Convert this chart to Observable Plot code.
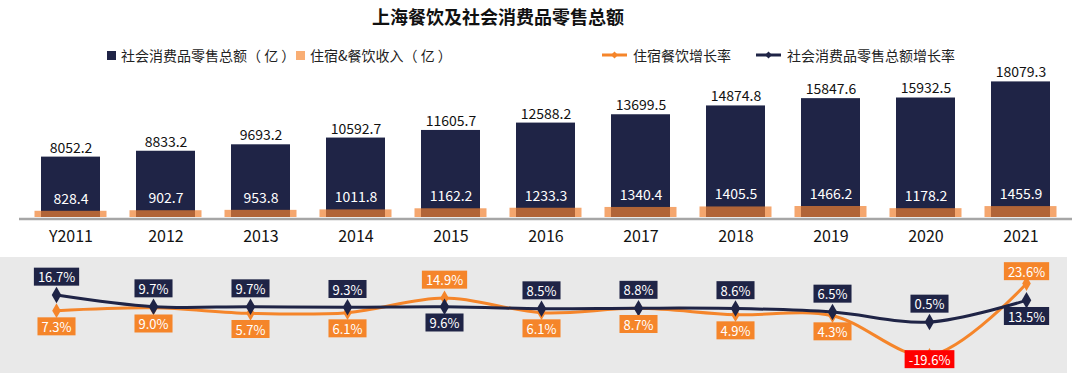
<!DOCTYPE html>
<html>
<head>
<meta charset="utf-8">
<script src="https://cdn.jsdelivr.net/npm/d3@7"></script>
<script src="https://cdn.jsdelivr.net/npm/@observablehq/plot@0.6"></script>
<style>
  body { margin: 0; background: #fff; font-family: "Noto Sans CJK SC", "Noto Sans", sans-serif; }
  #wrap { position: relative; width: 1080px; height: 373px; overflow: hidden; background: #fff; }
  #title { position: absolute; left: 0; top: 4px; width: 996px; text-align: center; font-size: 18px; font-weight: bold; color: #111; line-height: 24px; }
  .leg { position: absolute; top: 45px; height: 20px; display: flex; align-items: center; font-size: 14px; color: #222; white-space: nowrap; }
  .sq { width: 9px; height: 9px; margin-right: 5px; }
  .ln { margin-right: 6px; }
  #bars { position: absolute; left: 0; top: 62px; }
  #lines { position: absolute; left: 0; top: 257px; }
</style>
</head>
<body>
<div id="wrap">
  <div id="title"></div>
  <div id="legend"></div>
  <div id="bars"></div>
  <div id="lines"></div>
</div>
<script>
const chartTitle = "上海餐饮及社会消费品零售总额";
const years = ["Y2011", "2012", "2013", "2014", "2015", "2016", "2017", "2018", "2019", "2020", "2021"];
const retailTotal = [8052.2, 8833.2, 9693.2, 10592.7, 11605.7, 12588.2, 13699.5, 14874.8, 15847.6, 15932.5, 18079.3];
const cateringIncome = [828.4, 902.7, 953.8, 1011.8, 1162.2, 1233.3, 1340.4, 1405.5, 1466.2, 1178.2, 1455.9];
const cateringGrowth = [7.3, 9.0, 5.7, 6.1, 14.9, 6.1, 8.7, 4.9, 4.3, -19.6, 23.6];
const retailGrowth = [16.7, 9.7, 9.7, 9.3, 9.6, 8.5, 8.8, 8.6, 6.5, 0.5, 13.5];
const seriesNames = ["社会消费品零售总额（ 亿 ）", "住宿&餐饮收入（ 亿 ）", "住宿餐饮增长率", "社会消费品零售总额增长率"];

const NAVY = "#1F2446";
const ORANGE_BAR = "#F08030";
const ORANGE_LINE = "#F5852A";
const FONT = '"Noto Sans CJK SC", "Noto Sans", sans-serif';

document.getElementById("title").textContent = chartTitle;

// Legend
const legend = document.getElementById("legend");
const legItems = [
  {name: seriesNames[0], kind: "sq", color: NAVY, left: 107},
  {name: seriesNames[1], kind: "sq", color: "#F9AE74", left: 296},
  {name: seriesNames[2], kind: "ln", color: ORANGE_LINE, left: 602},
  {name: seriesNames[3], kind: "ln", color: NAVY, left: 756}
];
legItems.forEach(it => {
  const d = document.createElement("div");
  d.className = "leg";
  d.style.left = it.left + "px";
  if (it.kind === "sq") {
    const s = document.createElement("span");
    s.className = "sq";
    s.style.background = it.color;
    d.appendChild(s);
  } else {
    const ns = "http://www.w3.org/2000/svg";
    const svg = document.createElementNS(ns, "svg");
    svg.setAttribute("width", 25); svg.setAttribute("height", 10);
    svg.setAttribute("class", "ln");
    const l = document.createElementNS(ns, "line");
    l.setAttribute("x1", 0); l.setAttribute("x2", 25); l.setAttribute("y1", 5); l.setAttribute("y2", 5);
    l.setAttribute("stroke", it.color); l.setAttribute("stroke-width", 3);
    svg.appendChild(l);
    const p = document.createElementNS(ns, "path");
    p.setAttribute("d", "M12.5,1.5 L16,5 L12.5,8.5 L9,5 Z");
    p.setAttribute("fill", it.color);
    svg.appendChild(p);
    d.appendChild(svg);
  }
  const t = document.createElement("span");
  t.textContent = it.name;
  d.appendChild(t);
  legend.appendChild(d);
});

const rows = years.map((y, i) => ({
  year: y,
  total: retailTotal[i],
  catering: cateringIncome[i],
  cg: cateringGrowth[i],
  rg: retailGrowth[i]
}));

// Bar chart
const bars = Plot.plot({
  width: 1080,
  height: 195,
  marginTop: 5,
  marginBottom: 40,
  marginLeft: 19,
  marginRight: 8,
  x: {domain: years, padding: 0, label: null, tickSize: 0, tickPadding: 13},
  y: {domain: [0, 20000], axis: null},
  style: {fontFamily: FONT, fontSize: "16px", color: "#111", background: "transparent", overflow: "visible"},
  marks: [
    Plot.barY(rows, {x: "year", y: "total", fill: NAVY, insetLeft: 18, insetRight: 18}),
    Plot.barY(rows, {x: "year", y: "catering", fill: ORANGE_BAR, fillOpacity: 0.7, insetLeft: 11.5, insetRight: 11.5}),
    Plot.ruleY([0], {stroke: "#A6A6A6", strokeWidth: 2.5, dy: 1.5}),
    Plot.text(rows, {x: "year", y: "total", text: d => d.total.toFixed(1), dy: -9, fontSize: 14, fill: "#111"}),
    Plot.text(rows, {x: "year", y: "catering", text: d => d.catering.toFixed(1), dy: -12, fontSize: 14, fill: "#fff"})
  ]
});
document.getElementById("bars").appendChild(bars);

// Line chart
const PX_PER_UNIT = 72 / 43.2;
const OFF = 17 / PX_PER_UNIT;
const clamp = v => Math.max(-22.6, Math.min(30.2, v));
const labelRows = rows.map(r => ({
  ...r,
  cgY: clamp(r.cg >= r.rg ? r.cg + OFF : r.cg - OFF),
  rgY: clamp(r.rg > r.cg ? r.rg + OFF : r.rg - OFF)
}));

const lines = Plot.plot({
  width: 1067,
  height: 116,
  margin: 0,
  x: {domain: years, type: "point", padding: 0, range: [53, 1029], axis: null},
  y: {domain: [-19.6, 23.6], range: [98, 26], axis: null},
  style: {fontFamily: FONT, background: "#E9E9E9", overflow: "visible"},
  marks: [
    Plot.line(rows, {x: "year", y: "cg", stroke: ORANGE_LINE, strokeWidth: 3, curve: "catmull-rom"}),
    Plot.dot(rows, {x: "year", y: "cg", symbol: "diamond", r: 4.5, fill: ORANGE_LINE}),
    Plot.line(rows, {x: "year", y: "rg", stroke: NAVY, strokeWidth: 3, curve: "catmull-rom"}),
    Plot.dot(rows, {x: "year", y: "rg", symbol: "diamond", r: 5, fill: NAVY}),
    Plot.text(labelRows, {x: "year", y: "cgY", text: d => d.cg.toFixed(1) + "%", fontSize: 13, fill: "#fff"}),
    Plot.text(labelRows, {x: "year", y: "rgY", text: d => d.rg.toFixed(1) + "%", fontSize: 13, fill: "#fff"})
  ]
});
document.getElementById("lines").appendChild(lines);

function boxify(group, colorFn) {
  const ns = "http://www.w3.org/2000/svg";
  group.querySelectorAll("text").forEach(t => {
    const b = t.getBBox();
    const r = document.createElementNS(ns, "rect");
    const h = 18;
    r.setAttribute("x", b.x - 4);
    r.setAttribute("y", b.y + b.height / 2 - h / 2);
    r.setAttribute("width", b.width + 8);
    r.setAttribute("height", h);
    r.setAttribute("fill", colorFn(t.textContent));
    const tr = t.getAttribute("transform");
    if (tr) r.setAttribute("transform", tr);
    t.parentNode.insertBefore(r, t);
  });
}
const textGroups = lines.querySelectorAll('g[aria-label="text"]');
boxify(textGroups[0], s => s.startsWith("-") ? "#FF0000" : ORANGE_LINE);
boxify(textGroups[1], () => NAVY);
</script>
</body>
</html>
